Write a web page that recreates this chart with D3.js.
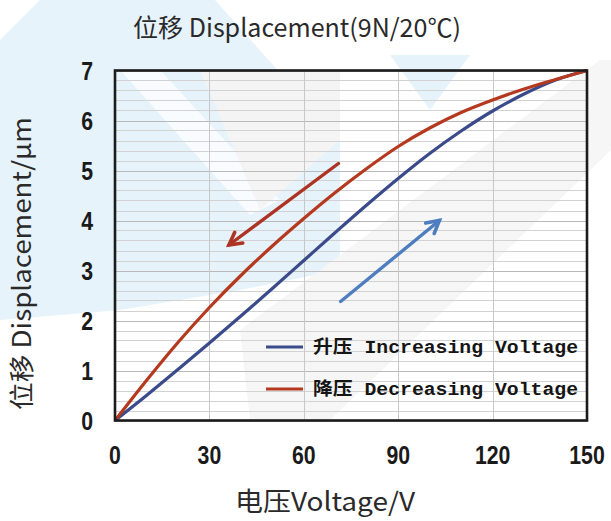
<!DOCTYPE html>
<html><head><meta charset="utf-8">
<script src="https://cdn.jsdelivr.net/npm/d3@7"></script>
<style>html,body{margin:0;padding:0;background:#fff;}svg{display:block;}</style>
</head><body><svg id="c" width="611" height="521"></svg>
<script>
const voltage = [0,10,20,30,40,50,60,70,80,90,100,110,120,130,140,150];
const increasing = [0,0.5,1.02,1.55,2.09,2.64,3.2,3.76,4.31,4.84,5.34,5.79,6.19,6.53,6.81,7.0];
const decreasing = [0,0.8,1.56,2.26,2.9,3.49,4.04,4.56,5.04,5.48,5.85,6.16,6.41,6.63,6.82,7.0];
const xTicks = [0,30,60,90,120,150];
const yTicks = [0,1,2,3,4,5,6,7];
const seriesNames = ["升压 Increasing Voltage","降压 Decreasing Voltage"];
const arrowDec = [[71,5.14],[36.2,3.51]];
const arrowInc = [[71.7,2.38],[103.1,4.0]];

const svg = d3.select("#c");
const L=115,R=587,T=70.5,B=420.5;
const x = d3.scaleLinear().domain([0,150]).range([L,R]);
const y = d3.scaleLinear().domain([0,7]).range([B,T]);

// watermark-like background shapes
const wm = svg.append("g");
wm.append("path").attr("d","M40,0 L215,0 L340,140 L340,270 L240,290 L120,310 L0,320 L0,40 Z").attr("fill","#e6f3fa");
wm.append("path").attr("d","M120,70 L160,70 L280,200 L250,215 Z").attr("fill","#ffffff").attr("opacity",0.7);
wm.append("path").attr("d","M200,70 L340,70 L340,140 L260,210 Z").attr("fill","#f4f4f4");
wm.append("path").attr("d","M240,330 L600,60 L611,60 L611,150 L330,420 L250,420 Z").attr("fill","#f6f6f6");
wm.append("path").attr("d","M390,55 L470,55 L430,110 Z").attr("fill","#e6f3fa");

// grid
const g = svg.append("g");
const minor = d3.range(0,7.001,0.2);
g.selectAll("line.h").data(minor).join("line")
  .attr("x1",L).attr("x2",R)
  .attr("y1",d=>Math.round(y(d))+0.5).attr("y2",d=>Math.round(y(d))+0.5)
  .attr("stroke",(d)=>Math.abs(d-Math.round(d))<1e-6?"#b9b9b9":"#d2d2d2").attr("stroke-width",1);
g.selectAll("line.v").data(xTicks.slice(1,-1)).join("line")
  .attr("x1",d=>Math.round(x(d))+0.5).attr("x2",d=>Math.round(x(d))+0.5)
  .attr("y1",T).attr("y2",B).attr("stroke","#c8c8c8").attr("stroke-width",1);

// lines
const line = d3.line().x(d=>x(d[0])).y(d=>y(d[1])).curve(d3.curveMonotoneX);
const colors = ["#3a4a8a","#b5391f"];
[increasing,decreasing].forEach((s,i)=>{
  svg.append("path").datum(voltage.map((v,j)=>[v,s[j]])).attr("d",line)
    .attr("fill","none").attr("stroke",colors[i]).attr("stroke-width",3.2);
});

// border
svg.append("rect").attr("x",L).attr("y",T).attr("width",R-L).attr("height",B-T)
  .attr("fill","none").attr("stroke","#1c1c1c").attr("stroke-width",2.6);

// arrows
function arrow(p,col){
  const x1=x(p[0][0]),y1=y(p[0][1]),x2=x(p[1][0]),y2=y(p[1][1]);
  const a=Math.atan2(y2-y1,x2-x1), h=14, w=0.5;
  svg.append("line").attr("x1",x1).attr("y1",y1).attr("x2",x2).attr("y2",y2)
    .attr("stroke",col).attr("stroke-width",3.4).attr("stroke-linecap","round");
  svg.append("path").attr("d",`M${x2-h*Math.cos(a-w)},${y2-h*Math.sin(a-w)} L${x2},${y2} L${x2-h*Math.cos(a+w)},${y2-h*Math.sin(a+w)}`)
    .attr("fill","none").attr("stroke",col).attr("stroke-width",3.6).attr("stroke-linecap","round").attr("stroke-linejoin","miter");
}
arrow(arrowDec,"#ad3324");
arrow(arrowInc,"#4f7ec0");

// legend
const lg = svg.append("g");
seriesNames.forEach((n,i)=>{
  const yy = 347 + i*42;
  lg.append("line").attr("x1",266).attr("x2",303).attr("y1",yy).attr("y2",yy)
    .attr("stroke",colors[i]).attr("stroke-width",3.2);
  lg.append("text").attr("x",313).attr("y",yy+6).text(n)
    .attr("textLength",265).attr("lengthAdjust","spacingAndGlyphs")
    .attr("font-family","'Liberation Mono','Noto Sans CJK SC',monospace").attr("font-weight","bold")
    .attr("font-size",18.5).attr("fill","#151515");
});

// axes tick labels
const tickFont = "'Liberation Sans',Arial,sans-serif";
svg.selectAll("text.xt").data(xTicks).join("text")
  .attr("transform",d=>`translate(${x(d)},464) scale(0.85,1)`).attr("text-anchor","middle")
  .attr("font-family",tickFont).attr("font-weight","bold").attr("font-size",25).attr("fill","#1a1a1a").text(d=>d);
svg.selectAll("text.yt").data(yTicks).join("text")
  .attr("transform",d=>`translate(93,${y(d)+9}) scale(0.85,1)`).attr("text-anchor","end")
  .attr("font-family",tickFont).attr("font-weight","bold").attr("font-size",25).attr("fill","#1a1a1a").text(d=>d);

// titles
const tf = "'Noto Sans CJK SC','Noto Sans',sans-serif";
svg.append("text").attr("x",133).attr("y",37)
  .attr("textLength",328).attr("lengthAdjust","spacingAndGlyphs")
  .attr("font-family",tf).attr("font-size",25).attr("fill","#2a2a2a").text("位移 Displacement(9N/20℃)");
svg.append("text").attr("x",235).attr("y",511)
  .attr("textLength",180).attr("lengthAdjust","spacingAndGlyphs")
  .attr("font-family",tf).attr("font-size",26).attr("fill","#2a2a2a").text("电压Voltage/V");
svg.append("text").attr("transform","translate(31,410) rotate(-90)")
  .attr("textLength",293).attr("lengthAdjust","spacingAndGlyphs")
  .attr("font-family",tf).attr("font-size",25).attr("fill","#2a2a2a").text("位移 Displacement/μm");
</script></body></html>
